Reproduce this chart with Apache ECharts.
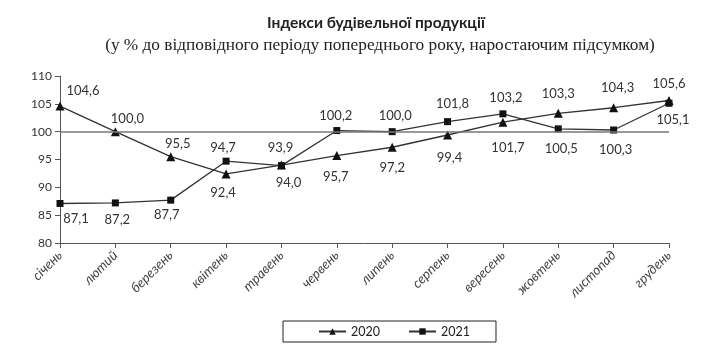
<!DOCTYPE html>
<html><head><meta charset="utf-8">
<script src="https://cdn.jsdelivr.net/npm/echarts@6/dist/echarts.min.js"></script>
<style>html,body{margin:0;padding:0;background:#fff}#c{width:720px;height:362px}</style>
</head><body><div id="c"></div>
<script>
const months = ['січень','лютий','березень','квітень','травень','червень','липень','серпень','вересень','жовтень','листопад','грудень'];
const yTicks = [80, 85, 90, 95, 100, 105, 110];
const s2020 = [104.6, 100.0, 95.5, 92.4, 94.0, 95.7, 97.2, 99.4, 101.7, 103.3, 104.3, 105.6];
const s2021 = [87.1, 87.2, 87.7, 94.7, 93.9, 100.2, 100.0, 101.8, 103.2, 100.5, 100.3, 105.1];
const baseline = 100;

// label placement (style only)
const off2020 = [[23,-15],[12,-13],[7,-13],[-3,19],[7,18],[-1,21],[0,21],[2,23],[5,26],[0,-19],[4,-20],[0,-17]];
const off2021 = [[16,15],[2,17],[-4,15],[-3,-13],[-1,-18],[-1,-15],[3,-16],[5,-18],[3,-16],[3,20],[2,20],[4,17]];

function mk(vals, offs){
  return vals.map((v,i)=>({value:v, label:{offset:offs[i]}}));
}
const fmt = p => p.value.toFixed(1).replace('.', ',');
const lbl = {show:true, position:'inside', formatter: fmt, fontFamily:'Lato', fontSize:13, color:'#333'};

const chart = echarts.init(document.getElementById('c'), null, {renderer:'canvas'});
chart.setOption({
  animation:false,
  backgroundColor:'#fff',
  title:[
    {text:'Індекси будівельної продукції', left:371, top:10, textAlign:'center',
     textStyle:{fontFamily:'Lato', fontWeight:'bold', fontSize:15.5, color:'#222'}},
    {text:'(у % до відповідного періоду попереднього року, наростаючим підсумком)', left:375, top:32, textAlign:'center',
     textStyle:{fontFamily:'Liberation Serif', fontWeight:'normal', fontSize:17.3, color:'#222'}}
  ],
  grid:{left:60, right:51, top:76, bottom:119},
  legend:{
    top:321, left:283,
    data:['2020','2021'],
    borderColor:'#222', borderWidth:1, padding:[4,26,4,35],
    itemWidth:27, itemHeight:8, itemGap:28,
    textStyle:{fontFamily:'Lato', fontSize:12.5, color:'#222'}
  },
  xAxis:{
    type:'category', data:months, boundaryGap:false,
    axisLine:{lineStyle:{color:'#555', width:1}},
    axisTick:{show:true, alignWithLabel:true, length:5, lineStyle:{color:'#555'}},
    axisLabel:{rotate:45, fontStyle:'italic', fontFamily:'Lato', fontSize:13.5, color:'#444', margin:10, interval:0}
  },
  yAxis:{
    type:'value', min:yTicks[0], max:yTicks[yTicks.length-1], interval:5,
    axisLine:{show:true, lineStyle:{color:'#555', width:1}},
    axisTick:{show:true, length:5, lineStyle:{color:'#555'}},
    splitLine:{show:false},
    axisLabel:{fontFamily:'Lato', fontSize:12, color:'#333', margin:8}
  },
  series:[
    {name:'2020', type:'line', data:mk(s2020, off2020), symbol:'triangle', symbolSize:9,
     lineStyle:{color:'#333', width:1.3}, itemStyle:{color:'#111'}, label:lbl,
     markLine:{silent:true, symbol:'none', label:{show:false}, data:[{yAxis:baseline}],
       lineStyle:{color:'#777', width:1.5, type:'solid'}}},
    {name:'2021', type:'line', data:mk(s2021, off2021), symbol:'rect', symbolSize:7,
     lineStyle:{color:'#333', width:1.3}, itemStyle:{color:'#111'}, label:lbl}
  ]
});
</script></body></html>
